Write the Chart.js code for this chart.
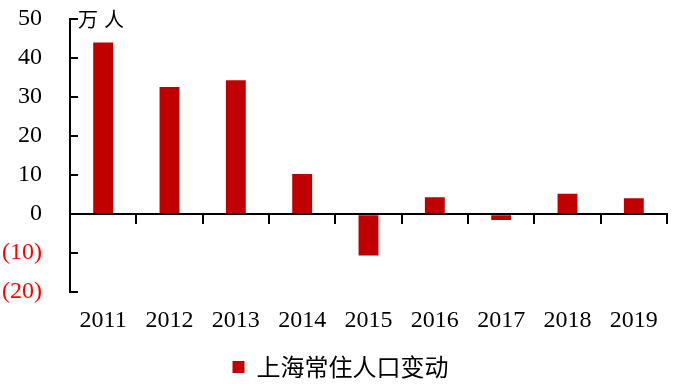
<!DOCTYPE html>
<html>
<head>
<meta charset="utf-8">
<script src="https://cdn.jsdelivr.net/npm/chart.js@4/dist/chart.umd.min.js"></script>
<style>
  html, body { margin: 0; padding: 0; background: #fff; }
  #wrap { width: 681px; height: 389px; }
</style>
</head>
<body>
<div id="wrap"><canvas id="c"></canvas></div>
<script>
const years = ['2011', '2012', '2013', '2014', '2015', '2016', '2017', '2018', '2019'];
const popChange = [44.0, 32.6, 34.3, 10.3, -10.6, 4.3, -1.5, 5.2, 4.1];
const seriesName = '上海常住人口变动';
const unitLabel = '万人';

const serif = '"Liberation Serif", "Times New Roman", serif';
const cjk = '"Noto Sans CJK SC", sans-serif';

// unit text next to the top of the y axis
const unitPlugin = {
  id: 'unit',
  afterDraw(chart) {
    const { ctx, chartArea } = chart;
    ctx.save();
    ctx.font = '20px ' + cjk;
    ctx.fillStyle = '#000';
    ctx.textBaseline = 'middle';
    ctx.fillText(unitLabel.charAt(0), chartArea.left + 8, chartArea.top);
    ctx.fillText(unitLabel.charAt(1), chartArea.left + 34, chartArea.top);
    ctx.restore();
  }
};

const ctx = document.getElementById('c').getContext('2d');
new Chart(ctx, {
  type: 'bar',
  data: {
    labels: years,
    datasets: [{
      label: seriesName,
      data: popChange,
      backgroundColor: '#C00000',
      barPercentage: 0.3,
      categoryPercentage: 1.0
    }]
  },
  options: {
    responsive: true,
    maintainAspectRatio: false,
    animation: false,
    layout: { padding: { top: 19, right: 0, left: 0, bottom: 0 } },
    plugins: {
      tooltip: { enabled: false },
      legend: {
        position: 'bottom',
        labels: {
          boxWidth: 12,
          boxHeight: 12,
          color: '#000',
          padding: 8,
          font: { family: cjk, size: 24 }
        }
      }
    },
    scales: {
      x: {
        axis: 'x',
        type: 'category',
        position: { y: 0 },
        offset: true,
        afterFit(scale) { scale.height = 0; },
        grid: {
          offset: true,
          drawOnChartArea: false,
          drawTicks: true,
          tickLength: 9,
          color: '#000',
          lineWidth: 2
        },
        border: { display: true, color: '#000', width: 2 },
        ticks: { display: false }
      },
      x2: {
        axis: 'x',
        type: 'category',
        position: 'bottom',
        offset: true,
        afterFit(scale) {
          scale.height += 6;
          scale.paddingLeft = 0;
          scale.paddingRight = 14;
        },
        grid: { display: false },
        border: { display: false },
        ticks: {
          color: '#000',
          padding: 6,
          maxRotation: 0,
          font: { family: serif, size: 24 }
        }
      },
      y: {
        min: -20,
        max: 50,
        afterFit(scale) {
          scale.width = 70;
          scale.paddingTop = 0;
          scale.paddingBottom = 0;
        },
        grid: {
          drawOnChartArea: false,
          drawTicks: true,
          tickLength: -8,
          color: '#000',
          lineWidth: 2
        },
        border: { display: true, color: '#000', width: 2 },
        ticks: {
          stepSize: 10,
          padding: 36,
          font: { family: serif, size: 24 },
          color: c => (c.tick && c.tick.value < 0 ? '#FF0000' : '#000'),
          callback: v => (v < 0 ? '(' + (-v) + ')' : String(v))
        }
      }
    }
  },
  plugins: [unitPlugin]
});
</script>
</body>
</html>
